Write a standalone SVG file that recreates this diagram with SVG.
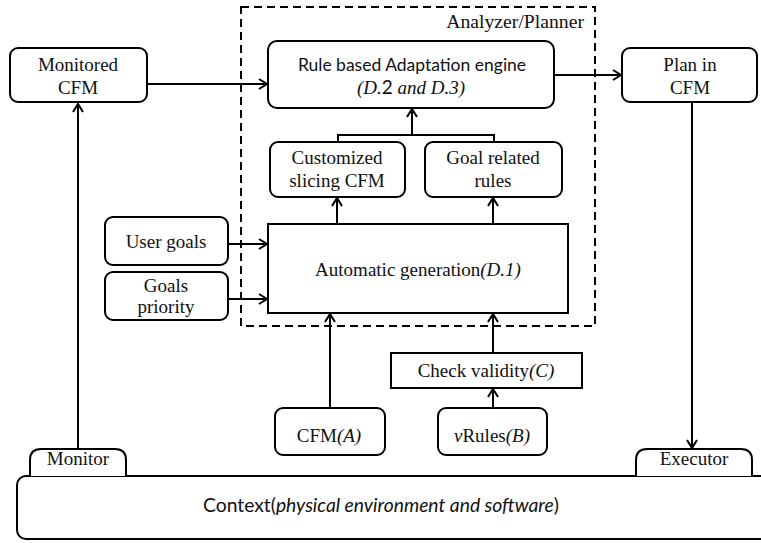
<svg xmlns="http://www.w3.org/2000/svg" width="761" height="543" viewBox="0 0 761 543">
  <style>
    .box { fill: #fff; stroke: #000; stroke-width: 2; }
    .t { font-family: "Liberation Serif", "Times New Roman", serif; font-size: 19px; fill: #111; text-anchor: middle; }
    .gs { font-family: Lato, "Open Sans", sans-serif; font-size: 17.5px; fill: #111; text-anchor: middle; }
    .it { font-style: italic; }
    .wire { fill: none; stroke: #000; stroke-width: 2; }
    .arrow { fill: none; stroke: #000; stroke-width: 2; marker-end: url(#head); }
    .frame { fill: none; stroke: #000; stroke-width: 2; stroke-dasharray: 8 5; }
  </style>
  <defs>
    <marker id="head" markerUnits="userSpaceOnUse" markerWidth="14" markerHeight="14" refX="10" refY="6" orient="auto">
      <path d="M2,1 L10,6 L2,11" fill="none" stroke="#000" stroke-width="2"/>
    </marker>
  </defs>

  <rect width="761" height="543" fill="#fff"/>

  <!-- Analyzer/Planner boundary -->
  <g id="analyzer-planner">
    <rect class="frame" x="241" y="7" width="354" height="319"/>
    <text class="t" x="584" y="28" style="text-anchor:end;font-size:19.7px">Analyzer/Planner</text>
  </g>

  <!-- Context base, running off the right edge -->
  <g id="context">
    <rect class="box" x="17" y="476" width="770" height="63" rx="9"/>
    <text class="gs" x="381" y="512" style="font-size:19.3px">Context(<tspan class="it">physical environment and software</tspan>)</text>
  </g>

  <g id="monitor">
    <path class="box" d="M30,476 V460 Q30,449 41,449 H115 Q126,449 126,460 V476"/>
    <text class="t" x="78" y="465">Monitor</text>
  </g>

  <g id="executor">
    <path class="box" d="M636,476 V460 Q636,449 647,449 H741 Q752,449 752,460 V476"/>
    <text class="t" x="694" y="465">Executor</text>
  </g>

  <g id="monitored-cfm">
    <rect class="box" x="10" y="48" width="137" height="54" rx="8"/>
    <text class="t" x="78" y="71">Monitored</text>
    <text class="t" x="78" y="94">CFM</text>
  </g>

  <g id="adaptation-engine">
    <rect class="box" x="268" y="41" width="286" height="67" rx="9"/>
    <text class="gs" x="412" y="71">Rule based Adaptation engine</text>
    <text class="t it" x="411" y="94">(D.<tspan font-family="Lato, sans-serif" font-style="normal">2</tspan> and D.3)</text>
  </g>

  <g id="plan-in-cfm">
    <rect class="box" x="622" y="48" width="135" height="54" rx="8"/>
    <text class="t" x="690" y="71">Plan in</text>
    <text class="t" x="690" y="94">CFM</text>
  </g>

  <g id="customized-slicing">
    <rect class="box" x="270" y="142" width="135" height="55" rx="8"/>
    <text class="t" x="337" y="164">Customized</text>
    <text class="t" x="337" y="187">slicing CFM</text>
  </g>

  <g id="goal-rules">
    <rect class="box" x="425" y="142" width="137" height="55" rx="8"/>
    <text class="t" x="493" y="164">Goal related</text>
    <text class="t" x="493" y="187">rules</text>
  </g>

  <g id="automatic-generation">
    <rect class="box" x="268" y="224" width="300" height="89"/>
    <text class="t" x="418" y="276">Automatic generation<tspan class="it">(D.1)</tspan></text>
  </g>

  <g id="user-goals">
    <rect class="box" x="105" y="217" width="123" height="48" rx="8"/>
    <text class="t" x="166" y="248">User goals</text>
  </g>

  <g id="goals-priority">
    <rect class="box" x="105" y="272" width="123" height="48" rx="8"/>
    <text class="t" x="166" y="292">Goals</text>
    <text class="t" x="166" y="313">priority</text>
  </g>

  <g id="check-validity">
    <rect class="box" x="391" y="353" width="191" height="35"/>
    <text class="t" x="486" y="377">Check validity<tspan class="it">(C)</tspan></text>
  </g>

  <g id="cfm-a">
    <rect class="box" x="275" y="408" width="110" height="47" rx="8"/>
    <text class="t" x="329" y="442">CFM<tspan class="it">(A)</tspan></text>
  </g>

  <g id="vrules-b">
    <rect class="box" x="438" y="408" width="109" height="47" rx="8"/>
    <text class="t" x="492" y="442"><tspan class="it">v</tspan>Rules<tspan class="it">(B)</tspan></text>
  </g>

  <!-- Connectors -->
  <g id="connectors">
    <path class="arrow" d="M147,84 H267"/>
    <path class="arrow" d="M554,75 H621"/>
    <path class="wire" d="M338,142 V135 H494 V142"/>
    <path class="arrow" d="M412,135 V109"/>
    <path class="arrow" d="M337,224 V198"/>
    <path class="arrow" d="M493,224 V198"/>
    <path class="arrow" d="M228,244 H267"/>
    <path class="arrow" d="M228,299 H267"/>
    <path class="arrow" d="M330,408 V314"/>
    <path class="arrow" d="M493,353 V314"/>
    <path class="arrow" d="M493,408 V389"/>
    <path class="arrow" d="M78,449 V104"/>
    <path class="arrow" d="M692,102 V448"/>
  </g>
</svg>
